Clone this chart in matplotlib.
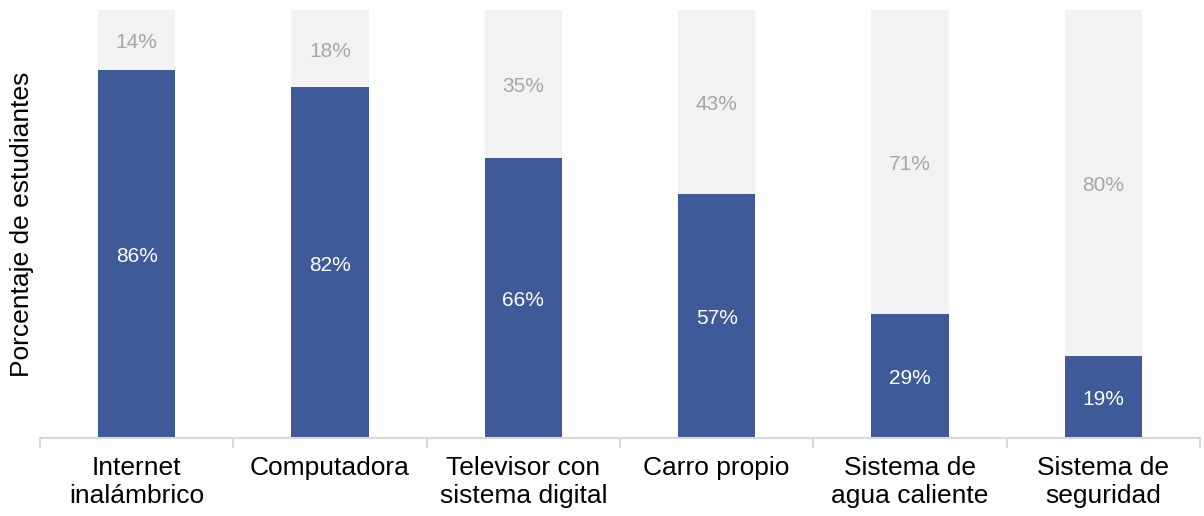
import matplotlib.pyplot as plt
import numpy as np

plt.rcParams['font.family'] = ['Liberation Sans', 'DejaVu Sans']

# data
categories = ['Internet\ninalámbrico', 'Computadora', 'Televisor con\nsistema digital',
              'Carro propio', 'Sistema de\nagua caliente', 'Sistema de\nseguridad']
tiene = [86, 82, 66, 57, 29, 19]
no_tiene = [14, 18, 35, 43, 71, 80]

BLUE = '#3F5A98'
LIGHT = '#F2F2F2'
GRAY_TXT = '#A6A6A6'
AXIS = '#D9D9D9'

x = np.arange(len(categories))
tiene_a = np.array(tiene, dtype=float)
no_a = np.array(no_tiene, dtype=float)
total = tiene_a + no_a
# 100% stacked: normalise each column
h_blue = tiene_a / total * 100
h_gray = no_a / total * 100

fig = plt.figure(figsize=(12.04, 5.16), dpi=100)
ax = fig.add_axes([40 / 1204, 1 - 438 / 516, 1160 / 1204, 428 / 516])

ax.bar(x, h_blue, width=0.4, color=BLUE, zorder=2)
ax.bar(x, h_gray, width=0.4, bottom=h_blue, color=LIGHT, zorder=2)

for i in range(len(x)):
    ax.text(x[i], h_blue[i] / 2 - 0.6, f'{tiene[i]}%', ha='center', va='center',
            color='white', fontsize=15)
    ax.text(x[i], h_blue[i] + h_gray[i] / 2 - 0.6, f'{no_tiene[i]}%', ha='center',
            va='center', color=GRAY_TXT, fontsize=15)

ax.set_xlim(-0.5, len(x) - 0.5)
ax.set_ylim(0, 100)

for s in ['top', 'right', 'left']:
    ax.spines[s].set_visible(False)
ax.spines['bottom'].set_color(AXIS)
ax.spines['bottom'].set_linewidth(1.5)

ax.set_yticks([])
ax.set_xticks(x)
ax.set_xticklabels(categories, fontsize=19, color='black', linespacing=1.2)
ax.tick_params(axis='x', which='major', length=0, pad=13)
ax.set_xticks(np.arange(-0.5, len(x), 1.0), minor=True)
ax.tick_params(axis='x', which='minor', length=7, width=1.5, color=AXIS)

ax.set_ylabel('Porcentaje de estudiantes', fontsize=19, labelpad=4)

fig.savefig('out.png', dpi=100)
